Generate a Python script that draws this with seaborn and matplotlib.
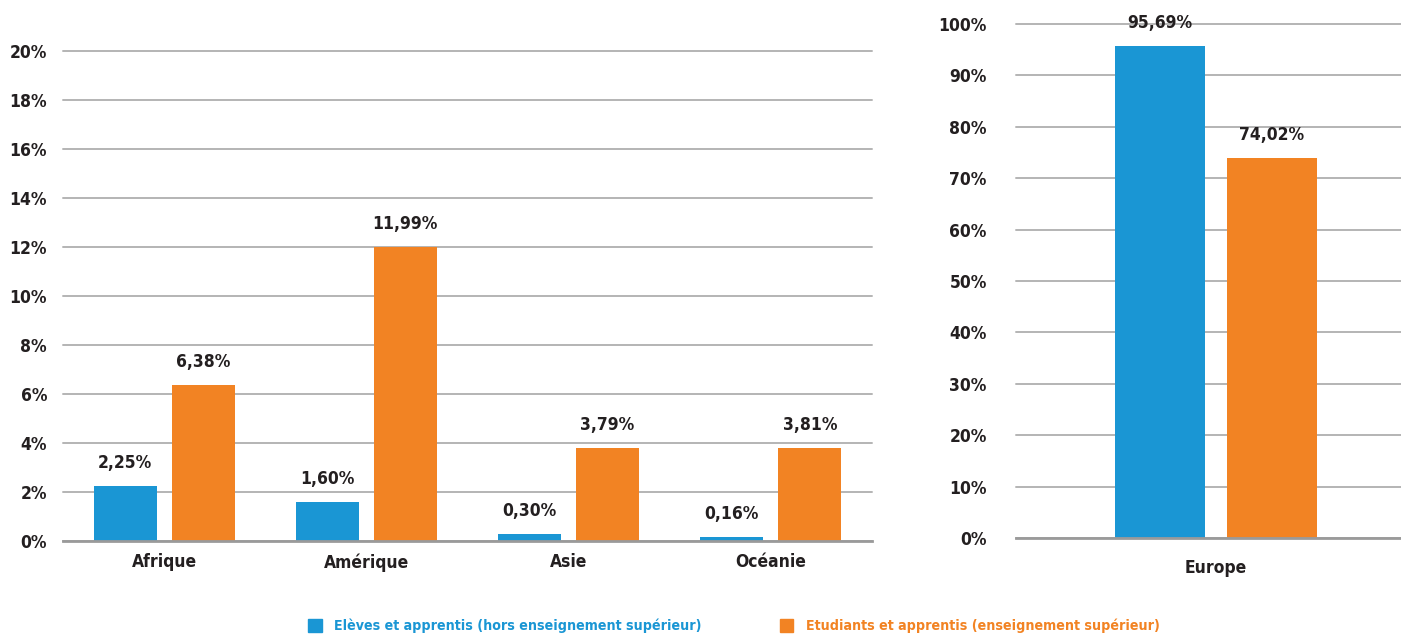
import pandas as pd
import matplotlib.pyplot as plt
import matplotlib.patches as mpatches
import seaborn as sns

regions = ["Afrique", "Amérique", "Asie", "Océanie"]
eleves = [2.25, 1.60, 0.30, 0.16]
etudiants = [6.38, 11.99, 3.79, 3.81]

europe = ["Europe"]
eleves_eu = [95.69]
etudiants_eu = [74.02]

series = ["Elèves et apprentis (hors enseignement supérieur)",
          "Etudiants et apprentis (enseignement supérieur)"]
left_ticks = list(range(0, 21, 2))
right_ticks = list(range(0, 101, 10))

BLUE = "#1a96d4"
ORANGE = "#f28323"
DARK = "#231f20"
GRID = "#b4b4b4"

sns.set_theme(style="white")
plt.rcParams["font.family"] = ["Liberation Sans Narrow", "DejaVu Sans"]
plt.rcParams["font.weight"] = "bold"
plt.rcParams["font.stretch"] = "condensed"


def long_df(cats, a, b):
    return pd.DataFrame({
        "cat": cats * 2,
        "val": list(a) + list(b),
        "serie": [series[0]] * len(cats) + [series[1]] * len(cats),
    })


def fmt(v):
    return f"{v:.2f}".replace(".", ",") + "%"


def style_axis(ax, ticks, ypad, xpad):
    ax.set_yticks(ticks)
    ax.set_yticklabels([f"{t}%" for t in ticks])
    ax.set_xlabel("")
    ax.set_ylabel("")
    ax.grid(axis="y", color=GRID, lw=1.4)
    for gl in ax.get_ygridlines():
        gl.set_clip_on(False)
    ax.set_axisbelow(True)
    for s in ["top", "right", "left"]:
        ax.spines[s].set_visible(False)
    ax.spines["bottom"].set_color("#9a9a9a")
    ax.spines["bottom"].set_linewidth(2)
    ax.tick_params(axis="y", length=0, pad=ypad, labelsize=12.5, labelcolor=DARK)
    ax.tick_params(axis="x", length=0, pad=xpad, labelsize=12.5, labelcolor=DARK)
    for c in ax.containers:
        ax.bar_label(c, labels=[fmt(v) for v in c.datavalues], padding=10,
                     fontsize=12.5, color=DARK, fontweight="bold")


fig = plt.figure(figsize=(14.01, 6.34), dpi=100)
ax1 = fig.add_axes([0.045, 0.1467, 0.5774, 0.7729])
ax2 = fig.add_axes([0.7252, 0.1514, 0.2855, 0.8107])

sns.barplot(data=long_df(regions, eleves, etudiants), x="cat", y="val",
            hue="serie", palette=[BLUE, ORANGE], width=0.77, gap=0.19,
            saturation=1, linewidth=0, legend=False, ax=ax1)
ax1.set_ylim(0, 20)
ax1.set_xlim(-0.5, 3.5)
style_axis(ax1, left_ticks, 11.5, 9)

sns.barplot(data=long_df(europe, eleves_eu, etudiants_eu), x="cat", y="val",
            hue="serie", palette=[BLUE, ORANGE], width=0.56, gap=0.2,
            saturation=1, linewidth=0, legend=False, ax=ax2)
ax2.set_ylim(0, 100)
ax2.set_xlim(-0.5, 0.5)
style_axis(ax2, right_ticks, 21, 15)

handles = [mpatches.Patch(color=BLUE, label=series[0]),
           mpatches.Patch(color=ORANGE, label=series[1])]
fig.legend(handles=handles, loc="lower center", bbox_to_anchor=(0.524, -0.019),
           ncol=2, frameon=False, fontsize=10.2, labelcolor=[BLUE, ORANGE],
           handlelength=0.95, handleheight=0.95, handletextpad=0.9,
           columnspacing=5.5)

fig.savefig("out.png", dpi=100)
